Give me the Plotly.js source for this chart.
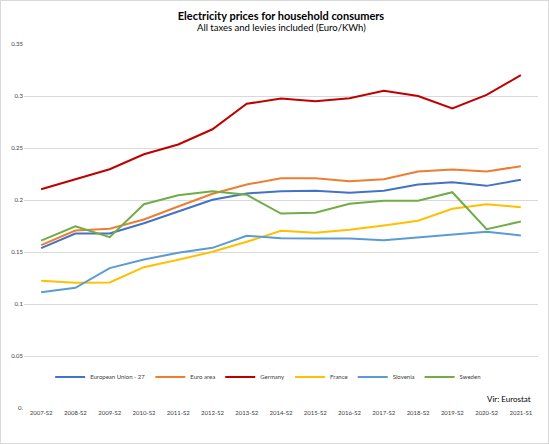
<!DOCTYPE html>
<html>
<head>
<meta charset="utf-8">
<script src="https://cdn.plot.ly/plotly-3.0.1.min.js"></script>
<style>
  body { margin: 0; padding: 0; background: #fff; }
  #chart { width: 547px; height: 442px; border: 1px solid #d9d9d9; }
</style>
</head>
<body>
<div id="chart"></div>
<script>
var periods = ['2007-S2', '2008-S2', '2009-S2', '2010-S2', '2011-S2', '2012-S2', '2013-S2',
  '2014-S2', '2015-S2', '2016-S2', '2017-S2', '2018-S2', '2019-S2', '2020-S2', '2021-S1'];

var eu27     = [0.1537, 0.1678, 0.1678, 0.1777, 0.1890, 0.2002, 0.2063, 0.2085, 0.2088, 0.2069, 0.2088, 0.2149, 0.2171, 0.2136, 0.2194];
var euroArea = [0.1566, 0.1707, 0.1723, 0.1813, 0.1938, 0.2060, 0.2149, 0.2208, 0.2210, 0.2180, 0.2200, 0.2274, 0.2293, 0.2274, 0.2325];
var germany  = [0.2104, 0.2197, 0.2296, 0.2440, 0.2534, 0.2680, 0.2925, 0.2976, 0.2950, 0.2979, 0.3050, 0.3000, 0.2880, 0.3010, 0.3200];
var france   = [0.1223, 0.1204, 0.1207, 0.1354, 0.1425, 0.1502, 0.1598, 0.1704, 0.1685, 0.1713, 0.1755, 0.1800, 0.1915, 0.1960, 0.1930];
var slovenia = [0.1114, 0.1156, 0.1345, 0.1428, 0.1492, 0.1540, 0.1656, 0.1633, 0.1630, 0.1630, 0.1614, 0.1640, 0.1665, 0.1694, 0.1659];
var sweden   = [0.1610, 0.1748, 0.1643, 0.1960, 0.2046, 0.2085, 0.2050, 0.1870, 0.1877, 0.1963, 0.1992, 0.1992, 0.2075, 0.1720, 0.1793];

var yTicks  = [0, 0.05, 0.1, 0.15, 0.2, 0.25, 0.3, 0.35];
var yLabels = ['0.', '0.05', '0.1', '0.15', '0.2', '0.25', '0.3', '0.35'];

function line(name, values, color) {
  return {
    x: periods, y: values, name: name,
    mode: 'lines', type: 'scatter',
    line: {color: color, width: 2}
  };
}

var data = [
  line('European Union - 27', eu27, '#4472C4'),
  line('Euro area', euroArea, '#ED7D31'),
  line('Germany', germany, '#C00000'),
  line('France', france, '#FFC000'),
  line('Slovenia', slovenia, '#5B9BD5'),
  line('Sweden', sweden, '#70AD47')
];

var layout = {
  width: 547,
  height: 442,
  autosize: false,
  paper_bgcolor: '#fff',
  plot_bgcolor: '#fff',
  font: {family: 'Lato, "Liberation Sans", sans-serif', color: '#404040', size: 6},
  margin: {l: 23, r: 10, t: 43, b: 35, pad: 0},
  title: {
    text: '<b>Electricity prices for household consumers</b>',
    font: {size: 11, color: '#000'},
    x: 0.5, xanchor: 'center', xref: 'paper',
    y: 0.965, yanchor: 'middle', yref: 'container'
  },
  annotations: [
    {text: 'All taxes and levies included (Euro/KWh)', xref: 'paper', yref: 'paper',
     x: 0.5, xanchor: 'center', y: 1.045, yanchor: 'middle', showarrow: false,
     font: {size: 9.5, color: '#000'}},
    {text: 'Vir: Eurostat', xref: 'paper', yref: 'paper',
     x: 0.99, xanchor: 'right', y: 0.025, yanchor: 'middle', showarrow: false,
     font: {size: 8, color: '#000'}}
  ],
  xaxis: {
    type: 'category',
    range: [-0.5, 14.5],
    showgrid: false,
    zeroline: false,
    showline: false,
    ticks: '',
    tickangle: 0,
    tickfont: {size: 6, color: '#404040'},
    fixedrange: true
  },
  yaxis: {
    range: [0, 0.35],
    tickvals: yTicks,
    ticktext: yLabels,
    showgrid: true,
    gridcolor: '#d9d9d9',
    gridwidth: 1,
    zeroline: false,
    showline: false,
    ticks: '',
    tickfont: {size: 6, color: '#404040'},
    fixedrange: true
  },
  showlegend: true,
  legend: {
    orientation: 'h',
    x: 0.475, xanchor: 'center',
    y: 0.085, yanchor: 'middle',
    bgcolor: 'rgba(0,0,0,0)',
    font: {size: 6, color: '#404040'},
    itemwidth: 30,
    tracegroupgap: 0
  }
};

var config = {displayModeBar: false, staticPlot: true};

Plotly.newPlot('chart', data, layout, config);
</script>
</body>
</html>
